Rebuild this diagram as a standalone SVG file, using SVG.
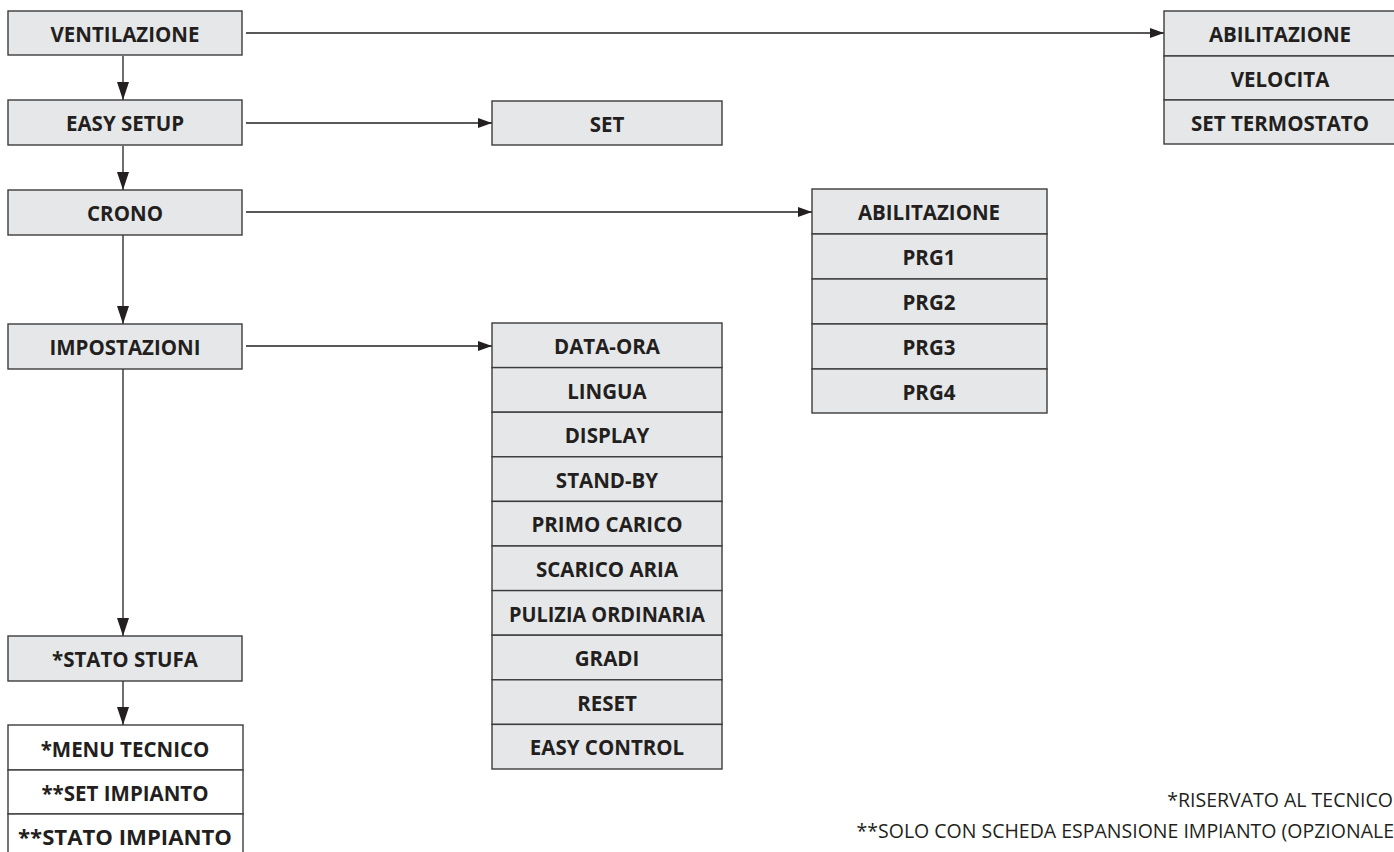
<svg xmlns="http://www.w3.org/2000/svg" width="1394" height="852" viewBox="0 0 1394 852">
<defs>
<style>
.b{fill:#e6e7e8;stroke:#3c3c3c;stroke-width:1.4}
.w{fill:#ffffff;stroke:#3c3c3c;stroke-width:1.4}
.t{font-family:"Open Sans","Noto Sans",sans-serif;font-weight:700;font-size:20.5px;fill:#231f20;text-anchor:middle}
.n{font-family:"Open Sans","Noto Sans",sans-serif;font-weight:400;font-size:19.5px;fill:#231f20;text-anchor:end}
.c{stroke:#231f20;stroke-width:1.3;fill:none}
</style>
<marker id="ah" viewBox="0 0 14 10" refX="14" refY="5" markerWidth="14" markerHeight="10" markerUnits="userSpaceOnUse" orient="auto">
<path d="M0,0 L14,5 L0,10 Z" fill="#231f20"/>
</marker>
<marker id="av" viewBox="0 0 18 12" refX="18" refY="6" markerWidth="18" markerHeight="12" markerUnits="userSpaceOnUse" orient="auto">
<path d="M0,0 L18,6 L0,12 Z" fill="#231f20"/>
</marker>
</defs>
<rect width="1394" height="852" fill="#ffffff"/>
<g id="connectors">
<line class="c" x1="246" y1="33" x2="1164" y2="33" marker-end="url(#ah)"/>
<line class="c" x1="246" y1="123" x2="492" y2="123" marker-end="url(#ah)"/>
<line class="c" x1="246" y1="212" x2="812" y2="212" marker-end="url(#ah)"/>
<line class="c" x1="246" y1="346" x2="492" y2="346" marker-end="url(#ah)"/>
<line class="c" x1="123" y1="56" x2="123" y2="100" marker-end="url(#av)"/>
<line class="c" x1="123" y1="146" x2="123" y2="190" marker-end="url(#av)"/>
<line class="c" x1="123" y1="235" x2="123" y2="324" marker-end="url(#av)"/>
<line class="c" x1="123" y1="369" x2="123" y2="636" marker-end="url(#av)"/>
<line class="c" x1="123" y1="681" x2="123" y2="725" marker-end="url(#av)"/>
</g>
<g id="ventilazione"><rect class="b" x="8" y="11" width="234" height="44"/><text class="t" x="125" y="42">VENTILAZIONE</text></g>
<g id="easy-setup"><rect class="b" x="8" y="100" width="234" height="45"/><text class="t" x="125" y="131">EASY SETUP</text></g>
<g id="crono"><rect class="b" x="8" y="190" width="234" height="45"/><text class="t" x="125" y="221">CRONO</text></g>
<g id="impostazioni"><rect class="b" x="8" y="324" width="234" height="45"/><text class="t" x="125" y="355">IMPOSTAZIONI</text></g>
<g id="stato-stufa"><rect class="b" x="8" y="636" width="234" height="45"/><text class="t" x="125" y="667">*STATO STUFA</text></g>
<g id="set"><rect class="b" x="492" y="101" width="230" height="44"/><text class="t" x="607" y="132">SET</text></g>
<g id="ventilazione-menu">
<rect class="b" x="1164" y="11" width="232" height="45"/><text class="t" x="1280" y="42">ABILITAZIONE</text>
<rect class="b" x="1164" y="56" width="232" height="44"/><text class="t" x="1280" y="87">VELOCITA</text>
<rect class="b" x="1164" y="100" width="232" height="44"/><text class="t" x="1280" y="131">SET TERMOSTATO</text>
</g>
<g id="crono-menu">
<rect class="b" x="812" y="189" width="235" height="45"/><text class="t" x="929" y="220">ABILITAZIONE</text>
<rect class="b" x="812" y="234" width="235" height="45"/><text class="t" x="929" y="265">PRG1</text>
<rect class="b" x="812" y="279" width="235" height="45"/><text class="t" x="929" y="310">PRG2</text>
<rect class="b" x="812" y="324" width="235" height="45"/><text class="t" x="929" y="355">PRG3</text>
<rect class="b" x="812" y="369" width="235" height="44"/><text class="t" x="929" y="400">PRG4</text>
</g>
<g id="impostazioni-menu">
<rect class="b" x="492" y="323" width="230" height="44.6"/><text class="t" x="607" y="354">DATA-ORA</text>
<rect class="b" x="492" y="367.6" width="230" height="44.6"/><text class="t" x="607" y="398.6">LINGUA</text>
<rect class="b" x="492" y="412.2" width="230" height="44.6"/><text class="t" x="607" y="443.2">DISPLAY</text>
<rect class="b" x="492" y="456.8" width="230" height="44.6"/><text class="t" x="607" y="487.8">STAND-BY</text>
<rect class="b" x="492" y="501.4" width="230" height="44.6"/><text class="t" x="607" y="532.4">PRIMO CARICO</text>
<rect class="b" x="492" y="546" width="230" height="44.6"/><text class="t" x="607" y="577">SCARICO ARIA</text>
<rect class="b" x="492" y="590.6" width="230" height="44.6"/><text class="t" x="607" y="621.6" textLength="196" lengthAdjust="spacingAndGlyphs">PULIZIA ORDINARIA</text>
<rect class="b" x="492" y="635.2" width="230" height="44.6"/><text class="t" x="607" y="666.2">GRADI</text>
<rect class="b" x="492" y="679.8" width="230" height="44.6"/><text class="t" x="607" y="710.8">RESET</text>
<rect class="b" x="492" y="724.4" width="230" height="44.6"/><text class="t" x="607" y="755.4">EASY CONTROL</text>
</g>
<g id="tecnico-menu">
<rect class="w" x="8" y="725" width="235" height="45"/><text class="t" x="125" y="757">*MENU TECNICO</text>
<rect class="w" x="8" y="770" width="235" height="44"/><text class="t" x="125" y="801">**SET IMPIANTO</text>
<rect class="w" x="8" y="814" width="235" height="46"/><text class="t" x="125" y="845" textLength="214" lengthAdjust="spacingAndGlyphs">**STATO IMPIANTO</text>
</g>
<g id="notes">
<text class="n" x="1393" y="807">*RISERVATO AL TECNICO</text>
<text class="n" x="1394" y="838">**SOLO CON SCHEDA ESPANSIONE IMPIANTO (OPZIONALE</text>
</g>
</svg>
